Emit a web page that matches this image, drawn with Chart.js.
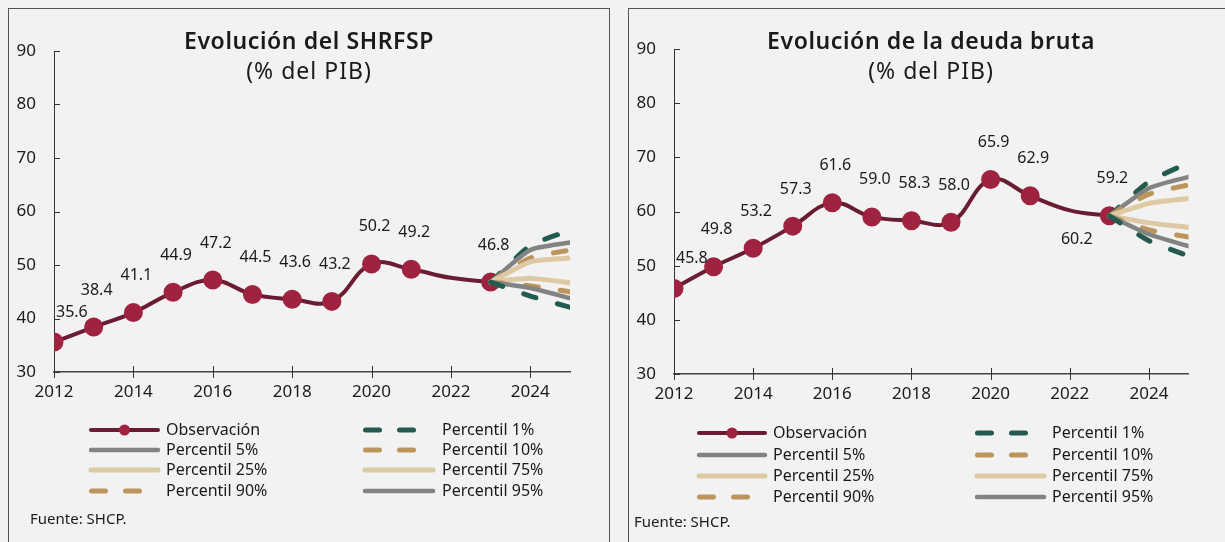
<!DOCTYPE html>
<html>
<head>
<meta charset="utf-8">
<script src="https://cdn.jsdelivr.net/npm/chart.js@4.4.1/dist/chart.umd.min.js"></script>
<style>
  body { margin: 0; background: #f2f2f2; width: 1225px; height: 542px; overflow: hidden;
         font-family: "Noto Sans", sans-serif; color: #1a1a1a; position: relative; }
  .panel { position: absolute; top: 8px; height: 560px; border: 1px solid #555; box-sizing: border-box; }
  #p1 { left: 8px; width: 602px; }
  #p2 { left: 628px; width: 620px; }
  .panel canvas { position: absolute; left: 0; top: 0; }
  .title { position: absolute; left: 0; text-align: center; font-weight: 600; font-size: 23px;
           letter-spacing: 0.6px; line-height: 28px; top: 17px; }
  .sub { position: absolute; left: 0; text-align: center; font-size: 23px; letter-spacing: 1px;
         line-height: 28px; top: 47px; }
  .src { position: absolute; font-size: 15px; }
</style>
</head>
<body>
<div class="panel" id="p1">
  <canvas id="c1" width="600" height="533"></canvas>
  <div class="title" style="width:600px">Evolución del SHRFSP</div>
  <div class="sub" style="width:600px">(% del PIB)</div>
  <div class="src" style="left:21px;top:499px">Fuente: SHCP.</div>
</div>
<div class="panel" id="p2">
  <canvas id="c2" width="596" height="533"></canvas>
  <div class="title" style="width:604px">Evolución de la deuda bruta</div>
  <div class="sub" style="width:604px">(% del PIB)</div>
  <div class="src" style="left:5px;top:502px">Fuente: SHCP.</div>
</div>
<script>
// años observados y horizonte de los abanicos
const years = [2012, 2013, 2014, 2015, 2016, 2017, 2018, 2019, 2020, 2021, 2022, 2023];
const fanYears = [2023, 2024, 2025];

// SHRFSP
const shrfspObs = [35.6, 38.4, 41.1, 44.9, 47.2, 44.5, 43.6, 43.2, 50.2, 49.2, 47.6, 46.8];
const shrfspP1  = [46.8, 44.2, 42.1];
const shrfspP5  = [46.8, 45.7, 43.8];
const shrfspP10 = [46.8, 46.1, 45.0];
const shrfspP25 = [46.8, 47.5, 46.7];
const shrfspP75 = [46.8, 50.6, 51.3];
const shrfspP90 = [46.8, 51.3, 52.8];
const shrfspP95 = [46.8, 52.8, 54.2];
const shrfspP99 = [46.8, 53.6, 56.5];

// deuda bruta
const deudaObs = [45.8, 49.8, 53.2, 57.3, 61.6, 59.0, 58.3, 58.0, 65.9, 62.9, 60.2, 59.2];
const deudaP1  = [59.2, 54.6, 51.8];
const deudaP5  = [59.2, 55.8, 53.6];
const deudaP10 = [59.2, 56.6, 55.3];
const deudaP25 = [59.2, 57.9, 57.1];
const deudaP75 = [59.2, 61.5, 62.4];
const deudaP90 = [59.2, 63.2, 64.9];
const deudaP95 = [59.2, 64.3, 66.4];
const deudaP99 = [59.2, 65.5, 69.0];

const legendLabels = ['Observación', 'Percentil 1%', 'Percentil 5%', 'Percentil 10%',
                      'Percentil 25%', 'Percentil 75%', 'Percentil 90%', 'Percentil 95%'];

const GUINDA = '#691c32', PUNTO = '#9f2241', VERDE = '#235b4e',
      DORADO = '#bc955c', CLARO = '#ddc9a3', GRIS = '#838383';
const FONT = '"Noto Sans", sans-serif';

const toXY = (xs, ys) => xs.map((x, i) => ({ x: x, y: ys[i] }));

function fanLine(label, xs, ys, color, width, dashed) {
    return {
        label: label,
        data: toXY(xs, ys),
        borderColor: color,
        borderWidth: width,
        borderDash: dashed ? [13, 22] : [],
        borderCapStyle: 'round',
        pointRadius: 0,
        tension: 0.2,
        order: 1
    };
}

// etiquetas de valor sobre la serie observada
const valueLabels = {
    id: 'valueLabels',
    afterDatasetsDraw(chart, args, opts) {
        const ctx = chart.ctx;
        const meta = chart.getDatasetMeta(0);
        const values = chart.data.datasets[0].data;
        ctx.save();
        ctx.font = '16px ' + FONT;
        ctx.fillStyle = '#1a1a1a';
        ctx.textBaseline = 'middle';
        meta.data.forEach((pt, i) => {
            if (opts.hide.includes(i)) return;
            let x = pt.x + 3, y = pt.y - 37;
            ctx.textAlign = 'center';
            if (i === 0) { x = pt.x + 2; y = pt.y - 30; ctx.textAlign = 'left'; }
            if (opts.below.includes(i)) { x = pt.x + 7; y = pt.y + 29; }
            ctx.fillText(values[i].y.toFixed(1), x, y);
        });
        ctx.restore();
    }
};

// marcas de los ejes (hacia dentro en y, cruzadas en x)
const axisTicks = {
    id: 'axisTicks',
    beforeDatasetsDraw(chart) {
        const ctx = chart.ctx;
        const x = chart.scales.x, y = chart.scales.y;
        ctx.save();
        ctx.strokeStyle = '#333';
        ctx.lineWidth = 1;
        y.ticks.forEach(t => {
            const py = Math.round(y.getPixelForValue(t.value)) + 0.5;
            ctx.beginPath();
            ctx.moveTo(y.right, py);
            ctx.lineTo(y.right + 6, py);
            ctx.stroke();
        });
        x.ticks.forEach(t => {
            const px = Math.round(x.getPixelForValue(t.value)) + 0.5;
            ctx.beginPath();
            ctx.moveTo(px, x.top - 6);
            ctx.lineTo(px, x.top + 6);
            ctx.stroke();
        });
        ctx.restore();
    }
};

// leyenda en dos columnas
const gridLegend = {
    id: 'gridLegend',
    afterDraw(chart, args, opts) {
        const ctx = chart.ctx;
        const sets = chart.data.datasets;
        ctx.save();
        ctx.font = '16px ' + FONT;
        ctx.textBaseline = 'middle';
        ctx.textAlign = 'left';
        legendLabels.forEach((name, k) => {
            const d = sets.find(s => s.label === name);
            const col = opts.cols[k % 2];
            const y = opts.rows[Math.floor(k / 2)];
            const s = col[0], e = col[1];
            ctx.strokeStyle = d.borderColor;
            ctx.lineWidth = d.borderWidth;
            ctx.lineCap = 'round';
            ctx.beginPath();
            if (d.borderDash && d.borderDash.length) {
                ctx.moveTo(s + 2.5, y); ctx.lineTo(s + 16.5, y);
                ctx.moveTo(s + 36.5, y); ctx.lineTo(s + 50.5, y);
            } else {
                ctx.moveTo(s + 2, y); ctx.lineTo(e - 2, y);
            }
            ctx.stroke();
            if (name === 'Observación') {
                ctx.fillStyle = PUNTO;
                ctx.beginPath();
                ctx.arc((s + e) / 2, y, 5.5, 0, Math.PI * 2);
                ctx.fill();
            }
            ctx.fillStyle = '#1a1a1a';
            ctx.fillText(name, col[2], y);
        });
        ctx.restore();
    }
};

function makeChart(id, obs, p, pad, labelOpts, legendOpts) {
    const datasets = [
        {
            label: 'Observación',
            data: toXY(years, obs),
            borderColor: GUINDA,
            borderWidth: 4,
            backgroundColor: PUNTO,
            pointBackgroundColor: PUNTO,
            pointBorderColor: PUNTO,
            pointRadius: years.map((yr, i) => i === 10 ? 0 : 7.5),
            tension: 0.4,
            order: 5
        },
        fanLine('Percentil 1%', fanYears, p[0], VERDE, 5, true),
        fanLine('Percentil 5%', fanYears, p[1], GRIS, 4.5, false),
        fanLine('Percentil 10%', fanYears, p[2], DORADO, 5, true),
        fanLine('Percentil 25%', fanYears, p[3], CLARO, 5, false),
        fanLine('Percentil 75%', fanYears, p[4], CLARO, 5, false),
        fanLine('Percentil 90%', fanYears, p[5], DORADO, 5, true),
        fanLine('Percentil 95%', fanYears, p[6], GRIS, 4.5, false),
        fanLine('Percentil 99%', fanYears, p[7], VERDE, 5, true)
    ];

    new Chart(document.getElementById(id), {
        type: 'line',
        data: { datasets: datasets },
        plugins: [axisTicks, valueLabels, gridLegend],
        options: {
            responsive: false,
            animation: false,
            events: [],
            layout: { padding: pad, autoPadding: false },
            plugins: {
                legend: { display: false },
                tooltip: { enabled: false },
                valueLabels: labelOpts,
                gridLegend: legendOpts
            },
            scales: {
                x: {
                    type: 'linear', min: 2012, max: 2025,
                    ticks: { stepSize: 2, includeBounds: false, padding: 10, maxRotation: 0,
                             color: '#1a1a1a', font: { family: FONT, size: 17 },
                             callback: v => String(v) },
                    grid: { display: false, drawTicks: false },
                    border: { display: true, color: '#444', width: 1.5 },
                    afterFit: s => { s.height = 30; }
                },
                y: {
                    min: 30, max: 90,
                    ticks: { stepSize: 10, padding: 18, color: '#1a1a1a',
                             font: { family: FONT, size: 17 } },
                    grid: { display: false, drawTicks: false },
                    border: { display: true, color: '#333', width: 1 },
                    afterFit: s => { s.width = 45; }
                }
            }
        }
    });
}

makeChart('c1', shrfspObs,
    [shrfspP1, shrfspP5, shrfspP10, shrfspP25, shrfspP75, shrfspP90, shrfspP95, shrfspP99],
    { left: 0, right: 39, top: 42, bottom: 140 },
    { hide: [10], below: [] },
    { cols: [[80, 151, 157], [354, 426, 433]], rows: [421, 441, 461, 482] });

makeChart('c2', deudaObs,
    [deudaP1, deudaP5, deudaP10, deudaP25, deudaP75, deudaP90, deudaP95, deudaP99],
    { left: 0, right: 36.5, top: 40, bottom: 138 },
    { hide: [], below: [10] },
    { cols: [[68, 138, 144], [346, 417, 423]], rows: [424, 446, 467, 488] });
</script>
</body>
</html>
